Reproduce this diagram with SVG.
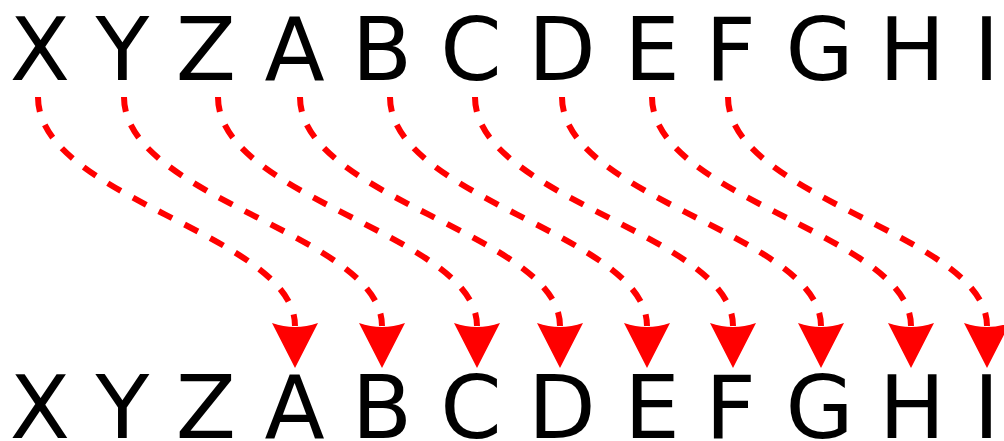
<svg xmlns="http://www.w3.org/2000/svg" width="1004" height="441" viewBox="0 0 1004 441">
<style>
.t{font-family:"DejaVu Sans",Verdana,sans-serif;font-size:88px;fill:#000;text-anchor:middle}
.c{fill:none;stroke:#ff0000;stroke-width:6;stroke-dasharray:15 14}
</style>
<defs>
<marker id="ah" markerUnits="userSpaceOnUse" orient="auto" refX="3" refY="0" markerWidth="60" markerHeight="60" overflow="visible">
<path d="M0,-23 Q8,0 0,23 L45,0 Z" fill="#ff0000"/>
</marker>
</defs>
<rect width="1004" height="441" fill="#fff"/>
<g id="top">
<g id="top-X"><text class="t" x="40" y="80">X</text></g>
<g id="top-Y"><text class="t" x="122.5" y="80">Y</text></g>
<g id="top-Z"><text class="t" x="206" y="80">Z</text></g>
<g id="top-A"><text class="t" x="294.5" y="80">A</text></g>
<g id="top-B"><text class="t" x="382" y="80">B</text></g>
<g id="top-C"><text class="t" x="471" y="80">C</text></g>
<g id="top-D"><text class="t" x="562" y="80">D</text></g>
<g id="top-E"><text class="t" x="652" y="80">E</text></g>
<g id="top-F"><text class="t" x="730.5" y="80">F</text></g>
<g id="top-G"><text class="t" x="819.5" y="80">G</text></g>
<g id="top-H"><text class="t" x="912" y="80">H</text></g>
<g id="top-I"><text class="t" x="986.5" y="80">I</text></g>
</g>
<g id="bottom">
<g id="bot-X"><text class="t" x="40" y="438">X</text></g>
<g id="bot-Y"><text class="t" x="122.5" y="438">Y</text></g>
<g id="bot-Z"><text class="t" x="206" y="438">Z</text></g>
<g id="bot-A"><text class="t" x="294.5" y="438">A</text></g>
<g id="bot-B"><text class="t" x="382" y="438">B</text></g>
<g id="bot-C"><text class="t" x="471" y="438">C</text></g>
<g id="bot-D"><text class="t" x="562" y="438">D</text></g>
<g id="bot-E"><text class="t" x="652" y="438">E</text></g>
<g id="bot-F"><text class="t" x="730.5" y="438">F</text></g>
<g id="bot-G"><text class="t" x="819.5" y="438">G</text></g>
<g id="bot-H"><text class="t" x="912" y="438">H</text></g>
<g id="bot-I"><text class="t" x="986.5" y="438">I</text></g>
</g>
<g id="connectors">
<path class="c" d="M38,97 C38,199 295,234 295,326" marker-end="url(#ah)"/>
<path class="c" d="M124,97 C124,199 382,234 382,326" marker-end="url(#ah)"/>
<path class="c" d="M218,97 C218,199 477,234 477,326" marker-end="url(#ah)"/>
<path class="c" d="M300,97 C300,199 560,234 560,326" marker-end="url(#ah)"/>
<path class="c" d="M390,97 C390,199 647,234 647,326" marker-end="url(#ah)"/>
<path class="c" d="M475,97 C475,199 733,234 733,326" marker-end="url(#ah)"/>
<path class="c" d="M562,97 C562,199 821,234 821,326" marker-end="url(#ah)"/>
<path class="c" d="M652,97 C652,199 911,234 911,326" marker-end="url(#ah)"/>
<path class="c" d="M728,97 C728,199 987,234 987,326" marker-end="url(#ah)"/>
</g>
</svg>
